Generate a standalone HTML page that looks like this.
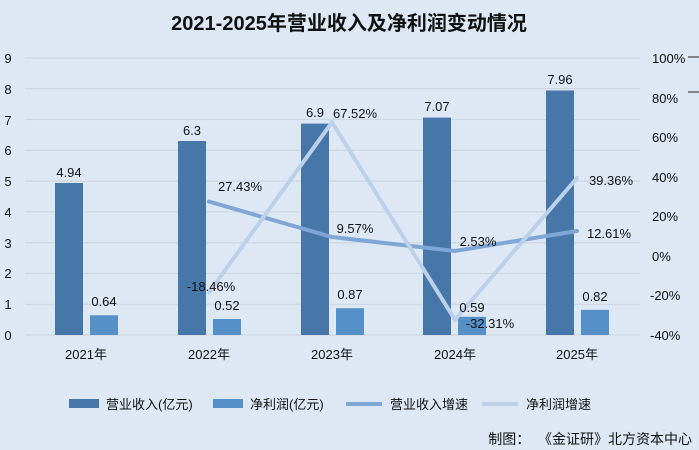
<!DOCTYPE html><html><head><meta charset="utf-8"><style>body{margin:0;background:#dde8f4}svg{display:block}text{font-family:"Liberation Sans","Noto Sans CJK SC",sans-serif;font-size:13px;fill:#111}</style></head><body>
<svg width="699" height="450" viewBox="0 0 699 450">
<rect width="699" height="450" fill="#dde8f4"/>
<line x1="688" y1="57" x2="699" y2="57" stroke="#222"/><line x1="688" y1="92" x2="699" y2="92" stroke="#222"/>
<text x="349" y="30" text-anchor="middle" style="font-size:20px;font-weight:bold">2021-2025年营业收入及净利润变动情况</text>
<g stroke="#c9d3de" stroke-width="1">
<line x1="25" x2="640" y1="58" y2="58"/><line x1="25" x2="640" y1="88.8" y2="88.8"/><line x1="25" x2="640" y1="119.6" y2="119.6"/><line x1="25" x2="640" y1="150.3" y2="150.3"/><line x1="25" x2="640" y1="181.1" y2="181.1"/><line x1="25" x2="640" y1="211.9" y2="211.9"/><line x1="25" x2="640" y1="242.7" y2="242.7"/><line x1="25" x2="640" y1="273.4" y2="273.4"/><line x1="25" x2="640" y1="304.2" y2="304.2"/><line x1="25" x2="640" y1="335" y2="335"/></g>
<g text-anchor="middle"><text x="8" y="63">9</text><text x="8" y="94">8</text><text x="8" y="125">7</text><text x="8" y="155">6</text><text x="8" y="186">5</text><text x="8" y="217">4</text><text x="8" y="248">3</text><text x="8" y="278">2</text><text x="8" y="309">1</text><text x="8" y="340">0</text></g>
<g><text x="652" y="63">100%</text><text x="652" y="103">80%</text><text x="652" y="142">60%</text><text x="652" y="182">40%</text><text x="652" y="221">20%</text><text x="652" y="261">0%</text><text x="650" y="300">-20%</text><text x="650" y="340">-40%</text></g>
<g fill="#4677a8"><rect x="55" y="183" width="28" height="152"/><rect x="178" y="141" width="28" height="194"/><rect x="301" y="123.6" width="28" height="211.4"/><rect x="423" y="117.6" width="28" height="217.4"/><rect x="546" y="90.5" width="28" height="244.5"/></g>
<g fill="#5590c8"><rect x="90" y="315.3" width="28" height="19.7"/><rect x="213" y="319" width="28" height="16"/><rect x="336" y="308.2" width="28" height="26.8"/><rect x="458" y="316.8" width="28" height="18.2"/><rect x="581" y="309.8" width="28" height="25.2"/></g>
<polyline points="209,201.6 332,237 455,251 577,231" fill="none" stroke="#7fa7d6" stroke-width="4" stroke-linecap="round"/>
<polyline points="209,292.4 332,122.3 455,319.8 577,178" fill="none" stroke="#bcd0ea" stroke-width="4" stroke-linecap="round"/>
<g text-anchor="middle"><text x="69" y="177">4.94</text><text x="104" y="306">0.64</text><text x="192" y="135">6.3</text><text x="227" y="310">0.52</text><text x="315" y="117">6.9</text><text x="350" y="299">0.87</text><text x="437" y="111">7.07</text><text x="472" y="312">0.59</text><text x="560" y="84">7.96</text><text x="595" y="301">0.82</text>
<text x="240" y="191">27.43%</text><text x="355" y="233">9.57%</text><text x="478" y="246">2.53%</text><text x="609" y="238">12.61%</text><text x="611" y="185">39.36%</text><text x="355" y="118">67.52%</text><text x="211" y="291">-18.46%</text><text x="490" y="328">-32.31%</text>
<text x="86" y="359">2021年</text><text x="209" y="359">2022年</text><text x="332" y="359">2023年</text><text x="455" y="359">2024年</text><text x="577" y="359">2025年</text></g>
<rect x="69" y="399" width="30" height="9" fill="#4677a8"/><text x="106" y="409">营业收入(亿元)</text>
<rect x="213" y="399" width="30" height="9" fill="#5590c8"/><text x="250" y="409">净利润(亿元)</text>
<line x1="346" y1="404" x2="382" y2="404" stroke="#7fa7d6" stroke-width="4"/><text x="390" y="409">营业收入增速</text>
<line x1="482" y1="404" x2="518" y2="404" stroke="#bcd0ea" stroke-width="4"/><text x="526" y="409">净利润增速</text>
<text x="692" y="444" text-anchor="end" style="font-size:14px" xml:space="preserve">制图：  《金证研》北方资本中心</text>
</svg></body></html>
